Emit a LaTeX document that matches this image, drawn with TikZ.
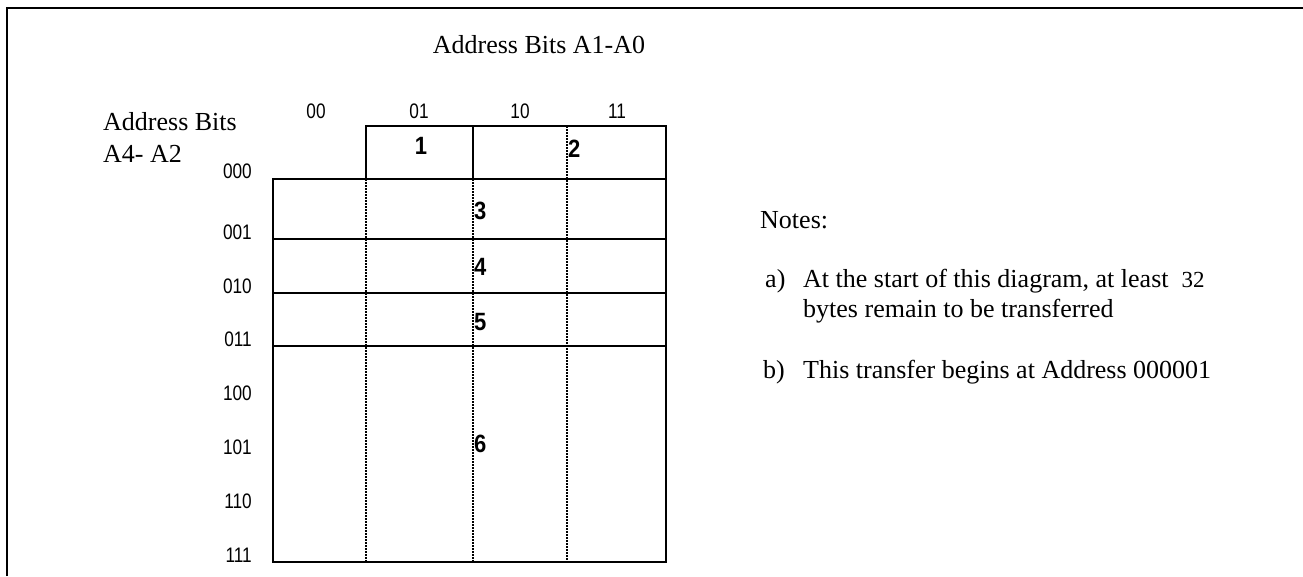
\documentclass[tikz,border=0pt]{standalone}
\usepackage{fontspec}
\setmainfont{Liberation Serif}
\newfontfamily\labelfont[FakeStretch=0.82]{Liberation Sans}
\newfontfamily\numfont[FakeStretch=0.88]{Liberation Sans Bold}
\begin{document}
\begin{tikzpicture}[x=1pt,y=-1pt,
  frameline/.style={line width=2pt},
  gridline/.style={line width=2pt},
  dotline/.style={line width=1.3pt,dash pattern=on 1.5pt off 1.5pt},
  serif/.style={inner sep=0pt,anchor=base west,font=\fontsize{26}{30}\selectfont},
  bitlabel/.style={inner sep=0pt,font=\labelfont\fontsize{21}{24}\selectfont},
  cellnum/.style={inner sep=0pt,font=\numfont\fontsize{25}{28}\selectfont}]
\useasboundingbox (0,0) rectangle (1303,576);
% outer frame (open on the right and bottom)
\draw[frameline] (7,576) -- (7,8) -- (1303,8);

% transfer blocks: solid outlines
\draw[gridline] (366,179) -- (366,126) -- (666,126) -- (666,562) -- (273,562) -- (273,179) -- (666,179);
\draw[gridline] (473,126) -- (473,179);
\draw[gridline] (273,239) -- (666,239);
\draw[gridline] (273,293) -- (666,293);
\draw[gridline] (273,346) -- (666,346);
% column separators inside blocks
\draw[dotline] (366,179) -- (366,562);
\draw[dotline] (473,179) -- (473,562);
\draw[dotline] (567,126) -- (567,562);

% headings
\node[serif,anchor=base] (title) at (539,53) {Address Bits A1-A0};
\node[serif] (rowhead1) at (103,130) {Address Bits};
\node[serif] (rowhead2) at (103,162) {A4- A2};

% column labels
\node[bitlabel] (c00) at (316,111) {00};
\node[bitlabel] (c01) at (419,111) {01};
\node[bitlabel] (c10) at (520,111) {10};
\node[bitlabel] (c11) at (617,111) {11};

% row labels, baselines on the row lines
\foreach \lab/\yy in {000/178,001/239,010/293,011/346,100/400,101/454,110/508,111/562}
  \node[bitlabel,anchor=base east] (r\lab) at (252,\yy) {\lab};

% transfer numbers
\node[cellnum] (n1) at (421,146) {1};
\node[cellnum,anchor=west] (n2) at (568,149) {2};
\node[cellnum,anchor=west] (n3) at (474,211) {3};
\node[cellnum,anchor=west] (n4) at (474,267) {4};
\node[cellnum,anchor=west] (n5) at (474,322) {5};
\node[cellnum,anchor=west] (n6) at (474,444) {6};

% notes
\node[serif] (notes) at (760,228) {Notes:};
\node[serif] (na) at (765,287) {a)};
\node[serif] (natext1) at (803,287) {At the start of this diagram, at least \ {\fontsize{23}{26}\selectfont 32}};
\node[serif] (natext2) at (803,317) {bytes remain to be transferred};
\node[serif] (nb) at (763,378) {b)};
\node[serif] (nbtext) at (803,378) {This transfer begins at Address 000001};
\end{tikzpicture}
\end{document}
